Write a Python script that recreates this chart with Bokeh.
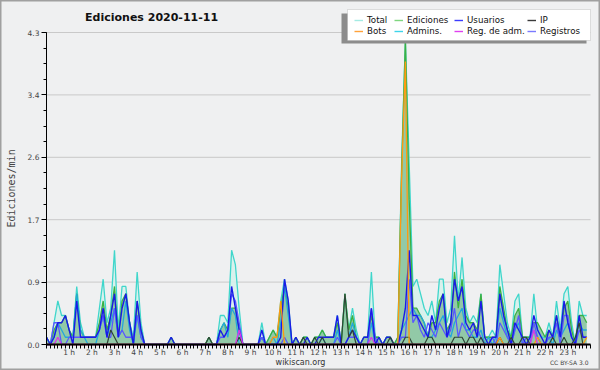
import numpy as np
from bokeh.plotting import figure
from bokeh.models import FixedTicker, Legend, LegendItem, Range1d, Label, BoxAnnotation
from bokeh.embed import file_html
from bokeh.resources import INLINE

# edits per minute, 10-minute bins (6 per hour, 24 hours)
TOTAL = [
    0.1, 0.0, 0.3, 0.6, 0.4, 0.4,
    0.2, 0.1, 0.8, 0.3, 0.1, 0.1,
    0.1, 0.1, 0.5, 0.9, 0.3, 0.5,
    1.3, 0.2, 0.8, 0.8, 0.3, 0.1,
    1.0, 0.3, 0.0, 0.0, 0.0, 0.0,
    0.0, 0.0, 0.0, 0.1, 0.0, 0.0,
    0.0, 0.0, 0.0, 0.0, 0.0, 0.0,
    0.0, 0.1, 0.0, 0.0, 0.4, 0.4,
    0.3, 1.3, 1.1, 0.5, 0.0, 0.0,
    0.0, 0.0, 0.0, 0.3, 0.0, 0.1,
    0.2, 0.1, 0.6, 0.9, 0.6, 0.0,
    0.1, 0.0, 0.1, 0.1, 0.0, 0.1,
    0.1, 0.2, 0.1, 0.1, 0.1, 0.4,
    0.0, 0.7, 0.2, 0.5, 0.2, 0.0,
    0.1, 0.1, 1.0, 0.1, 0.1, 0.0,
    0.1, 0.1, 0.0, 0.1, 2.5, 4.2,
    2.5, 0.8, 0.9, 0.7, 0.5, 0.4,
    0.6, 0.3, 0.9, 0.9, 0.3, 0.5,
    1.5, 0.6, 1.2, 0.5, 0.3, 0.4,
    0.3, 0.7, 0.1, 0.1, 0.2, 0.1,
    1.1, 0.7, 0.3, 0.1, 0.6, 0.7,
    0.1, 0.1, 0.1, 0.7, 0.2, 0.1,
    0.1, 0.3, 0.1, 0.6, 0.2, 0.7,
    0.8, 0.3, 0.0, 0.6, 0.4, 0.4,
]
EDICIONES = [
    0.1, 0.0, 0.2, 0.3, 0.3, 0.4,
    0.2, 0.1, 0.7, 0.2, 0.1, 0.1,
    0.1, 0.1, 0.3, 0.6, 0.2, 0.4,
    0.8, 0.1, 0.6, 0.7, 0.3, 0.0,
    0.6, 0.2, 0.0, 0.0, 0.0, 0.0,
    0.0, 0.0, 0.0, 0.1, 0.0, 0.0,
    0.0, 0.0, 0.0, 0.0, 0.0, 0.0,
    0.0, 0.1, 0.0, 0.0, 0.2, 0.3,
    0.2, 0.5, 0.5, 0.2, 0.0, 0.0,
    0.0, 0.0, 0.0, 0.1, 0.0, 0.1,
    0.2, 0.1, 0.5, 0.8, 0.5, 0.0,
    0.1, 0.0, 0.1, 0.1, 0.0, 0.1,
    0.1, 0.2, 0.1, 0.1, 0.1, 0.3,
    0.0, 0.7, 0.2, 0.4, 0.1, 0.0,
    0.1, 0.1, 0.4, 0.1, 0.1, 0.0,
    0.1, 0.1, 0.0, 0.1, 2.4, 4.2,
    2.0, 0.5, 0.5, 0.4, 0.3, 0.1,
    0.3, 0.3, 0.6, 0.7, 0.2, 0.3,
    1.0, 0.5, 0.9, 0.4, 0.3, 0.3,
    0.2, 0.7, 0.1, 0.1, 0.1, 0.1,
    0.8, 0.5, 0.2, 0.1, 0.4, 0.5,
    0.1, 0.1, 0.1, 0.3, 0.3, 0.2,
    0.1, 0.2, 0.1, 0.4, 0.1, 0.5,
    0.6, 0.2, 0.0, 0.4, 0.4, 0.3,
]
USUARIOS = [
    0.1, 0.0, 0.1, 0.3, 0.3, 0.4,
    0.2, 0.0, 0.6, 0.1, 0.1, 0.1,
    0.1, 0.1, 0.2, 0.5, 0.1, 0.4,
    0.7, 0.1, 0.5, 0.7, 0.3, 0.0,
    0.6, 0.2, 0.0, 0.0, 0.0, 0.0,
    0.0, 0.0, 0.0, 0.1, 0.0, 0.0,
    0.0, 0.0, 0.0, 0.0, 0.0, 0.0,
    0.0, 0.0, 0.0, 0.0, 0.2, 0.1,
    0.2, 0.8, 0.5, 0.2, 0.0, 0.0,
    0.0, 0.0, 0.0, 0.2, 0.0, 0.0,
    0.0, 0.0, 0.1, 0.9, 0.6, 0.0,
    0.1, 0.0, 0.0, 0.1, 0.0, 0.0,
    0.1, 0.1, 0.1, 0.1, 0.1, 0.4,
    0.0, 0.0, 0.1, 0.2, 0.1, 0.0,
    0.1, 0.1, 0.5, 0.0, 0.1, 0.0,
    0.1, 0.1, 0.0, 0.0, 0.2, 0.5,
    1.3, 0.4, 0.4, 0.3, 0.2, 0.1,
    0.4, 0.2, 0.5, 0.7, 0.1, 0.3,
    0.9, 0.6, 0.8, 0.3, 0.2, 0.3,
    0.1, 0.6, 0.1, 0.0, 0.1, 0.1,
    0.7, 0.4, 0.2, 0.0, 0.3, 0.2,
    0.1, 0.0, 0.1, 0.4, 0.2, 0.1,
    0.0, 0.2, 0.1, 0.4, 0.1, 0.6,
    0.3, 0.1, 0.0, 0.4, 0.1, 0.1,
]
IP = [
    0.0, 0.0, 0.0, 0.0, 0.0, 0.0,
    0.0, 0.0, 0.0, 0.0, 0.0, 0.0,
    0.0, 0.0, 0.0, 0.0, 0.0, 0.2,
    0.1, 0.0, 0.0, 0.0, 0.0, 0.0,
    0.0, 0.0, 0.0, 0.0, 0.0, 0.0,
    0.0, 0.0, 0.0, 0.0, 0.0, 0.0,
    0.0, 0.0, 0.0, 0.0, 0.0, 0.0,
    0.0, 0.1, 0.0, 0.0, 0.0, 0.0,
    0.0, 0.0, 0.0, 0.1, 0.0, 0.0,
    0.0, 0.0, 0.0, 0.0, 0.0, 0.0,
    0.0, 0.0, 0.0, 0.0, 0.0, 0.0,
    0.0, 0.0, 0.1, 0.0, 0.0, 0.1,
    0.0, 0.1, 0.0, 0.0, 0.0, 0.0,
    0.0, 0.7, 0.1, 0.2, 0.0, 0.0,
    0.0, 0.0, 0.0, 0.0, 0.0, 0.0,
    0.0, 0.1, 0.0, 0.0, 0.0, 0.1,
    0.1, 0.0, 0.0, 0.0, 0.0, 0.1,
    0.1, 0.0, 0.0, 0.0, 0.0, 0.0,
    0.1, 0.1, 0.1, 0.0, 0.1, 0.1,
    0.0, 0.1, 0.0, 0.0, 0.0, 0.0,
    0.1, 0.0, 0.0, 0.1, 0.0, 0.0,
    0.1, 0.1, 0.0, 0.0, 0.0, 0.0,
    0.0, 0.0, 0.1, 0.0, 0.0, 0.1,
    0.0, 0.0, 0.1, 0.3, 0.0, 0.0,
]
BOTS = [0.0] * 59 + [0.0, 0.1, 0.1, 0.6, 0.0] + [0.0] * 30 + [2.3, 3.9, 0.0] + [0.0] * 23 + [0.1] + [0.0] * 9 + [0.1] + [0.0] * 12 + [0.1]
ADMINS = [
    0.0, 0.0, 0.1, 0.3, 0.2, 0.1,
    0.1, 0.1, 0.7, 0.2, 0.1, 0.0,
    0.0, 0.0, 0.2, 0.4, 0.1, 0.3,
    0.5, 0.1, 0.2, 0.6, 0.2, 0.0,
    0.4, 0.1, 0.0, 0.0, 0.0, 0.0,
    0.0, 0.0, 0.0, 0.0, 0.0, 0.0,
    0.0, 0.0, 0.0, 0.0, 0.0, 0.0,
    0.0, 0.0, 0.0, 0.0, 0.2, 0.3,
    0.1, 0.5, 0.4, 0.0, 0.0, 0.0,
    0.0, 0.0, 0.0, 0.1, 0.0, 0.0,
    0.1, 0.0, 0.3, 0.8, 0.4, 0.0,
    0.0, 0.0, 0.0, 0.0, 0.0, 0.0,
    0.0, 0.1, 0.0, 0.0, 0.0, 0.2,
    0.0, 0.0, 0.1, 0.3, 0.1, 0.0,
    0.0, 0.0, 0.3, 0.0, 0.0, 0.0,
    0.0, 0.0, 0.0, 0.0, 0.2, 0.3,
    0.4, 0.5, 0.4, 0.4, 0.3, 0.1,
    0.1, 0.2, 0.3, 0.4, 0.2, 0.1,
    0.3, 0.4, 0.5, 0.2, 0.2, 0.1,
    0.1, 0.2, 0.0, 0.1, 0.0, 0.1,
    0.5, 0.3, 0.1, 0.0, 0.2, 0.3,
    0.0, 0.0, 0.1, 0.2, 0.1, 0.0,
    0.0, 0.1, 0.0, 0.2, 0.1, 0.2,
    0.3, 0.1, 0.0, 0.3, 0.2, 0.2,
]
REG_ADM = [0.0] * 3 + [0.1] + [0.0] * 47 + [0.2] + [0.0] * 34 + [0.1] + [0.0] * 42 + [0.2] + [0.0] * 14
REGISTROS = [
    0.0, 0.0, 0.3, 0.3, 0.0, 0.0,
    0.1, 0.1, 0.1, 0.1, 0.1, 0.1,
    0.1, 0.1, 0.2, 0.4, 0.1, 0.1,
    0.5, 0.1, 0.2, 0.1, 0.1, 0.1,
    0.4, 0.1, 0.0, 0.0, 0.0, 0.0,
    0.0, 0.0, 0.0, 0.0, 0.0, 0.0,
    0.0, 0.0, 0.0, 0.0, 0.0, 0.0,
    0.0, 0.0, 0.0, 0.0, 0.1, 0.1,
    0.2, 0.7, 0.6, 0.3, 0.0, 0.0,
    0.0, 0.0, 0.0, 0.1, 0.0, 0.0,
    0.0, 0.0, 0.0, 0.1, 0.0, 0.0,
    0.0, 0.0, 0.0, 0.0, 0.0, 0.0,
    0.0, 0.0, 0.0, 0.0, 0.0, 0.1,
    0.0, 0.0, 0.1, 0.1, 0.1, 0.0,
    0.0, 0.0, 0.5, 0.1, 0.0, 0.0,
    0.0, 0.0, 0.0, 0.0, 0.1, 0.1,
    0.9, 0.3, 0.4, 0.2, 0.1, 0.3,
    0.2, 0.1, 0.3, 0.2, 0.1, 0.2,
    0.5, 0.1, 0.3, 0.2, 0.1, 0.2,
    0.2, 0.1, 0.0, 0.0, 0.1, 0.0,
    0.3, 0.2, 0.1, 0.0, 0.2, 0.4,
    0.0, 0.1, 0.0, 0.3, 0.1, 0.0,
    0.0, 0.1, 0.1, 0.3, 0.0, 0.4,
    0.4, 0.1, 0.0, 0.2, 0.1, 0.1,
]

Y_TICKS = [0.0, 0.86, 1.72, 2.58, 3.44, 4.3]
Y_LABELS = ["0.0", "0.9", "1.7", "2.6", "3.4", "4.3"]
HOURS = list(range(1, 24))
HOUR_LABELS = [f"{h} h" for h in HOURS]

x = np.arange(len(TOTAL)) / 6.0

# page layout (pixels): plot area spans x 46..590, y 32..344 of a 600x370 picture
W, H = 600, 370
L, R, T, B = 46, 590, 32, 344
XMAX, YMAX = 24.0, Y_TICKS[-1]
kx = XMAX / (R - L)
ky = YMAX / (B - T)

BG = "#eff0f1"
p = figure(width=W, height=H, output_backend="svg", toolbar_location=None,
           x_range=Range1d(-L * kx, XMAX + (W - R) * kx),
           y_range=Range1d(-(H - B) * ky, YMAX + T * ky),
           min_border=0, min_border_left=0, min_border_right=0,
           min_border_top=0, min_border_bottom=0,
           background_fill_color=BG, border_fill_color=BG,
           outline_line_color="#a0a0a0", outline_line_width=2)

# horizontal grid lines at the y ticks, only across the plot area
p.xgrid.visible = False
p.ygrid.visible = False
p.segment(x0=0, x1=XMAX, y0=Y_TICKS, y1=Y_TICKS, line_color="#c9c9c9", line_width=1)

# fills
p.varea(x=x, y1=0, y2=TOTAL, fill_color="#d6f1ec", fill_alpha=0.9)
p.varea(x=x, y1=0, y2=EDICIONES, fill_color="#7fbf95", fill_alpha=0.8)

p.line(x, TOTAL, line_color="#3fd6cb", line_width=1.3)
p.line(x, EDICIONES, line_color="#3cb043", line_width=1.3)
p.line(x, ADMINS, line_color="#22a8dc", line_width=1.3)
p.line(x, REGISTROS, line_color="#5858ff", line_width=1.3)
p.line(x, USUARIOS, line_color="#1a1ae8", line_width=1.4)
p.line(x, IP, line_color="#2f4536", line_width=1.2)
p.line(x, BOTS, line_color="#ff9a10", line_width=1.3)
p.line(x, REG_ADM, line_color="#d838e8", line_width=1.3)


def screen_box(left, right, top, bottom, **kw):
    """Box given in page pixels (from the top-left corner)."""
    p.add_layout(BoxAnnotation(left=left, right=right, bottom=H - bottom, top=H - top,
                               left_units="screen", right_units="screen",
                               bottom_units="screen", top_units="screen", **kw))


# legend shadow and box
screen_box(341, 586, 13, 43, fill_color="#8c8c8c", fill_alpha=1, line_alpha=0)
screen_box(347, 590, 9, 40, fill_color="white", fill_alpha=1, line_color="#9a9a9a", line_width=1)

# legend: four columns of two entries (placeholder renderers carry the legend colours)
LEGEND_COLUMNS = [
    [("Total", "#a4ebe3"), ("Bots", "#ffa23a")],
    [("Ediciones", "#7fd67f"), ("Admins.", "#3ed4ea")],
    [("Usuarios", "#3c3cff"), ("Reg. de adm.", "#e040f0")],
    [("IP", "#3a3a3a"), ("Registros", "#7a7aff")],
]
COLUMN_LEFT = [354, 394, 454, 527]
for col_items, left in zip(LEGEND_COLUMNS, COLUMN_LEFT):
    items = []
    for name, colr in col_items:
        r = p.line([np.nan], [np.nan], line_color=colr, line_width=1.4)
        items.append(LegendItem(label=name, renderers=[r]))
    p.add_layout(Legend(items=items, orientation="vertical", location=(left, H - 36),
                        label_text_font="DejaVu Sans", label_text_font_size="8.7px",
                        label_text_color="#111111", glyph_width=9, glyph_height=10,
                        label_height=10, label_standoff=4, spacing=1, padding=0, margin=0,
                        border_line_alpha=0, background_fill_alpha=0), "center")

# title and credits
p.add_layout(Label(x=153, y=H - 17, x_units="screen", y_units="screen", text="Ediciones  2020-11-11",
                   text_font="DejaVu Sans", text_font_size="11px", text_font_style="bold",
                   text_align="center", text_baseline="middle", text_color="#111111"))
p.add_layout(Label(x=300, y=H - 362, x_units="screen", y_units="screen", text="wikiscan.org",
                   text_font="DejaVu Sans", text_font_size="8px",
                   text_align="center", text_baseline="middle", text_color="#333333"))
p.add_layout(Label(x=590, y=H - 362, x_units="screen", y_units="screen", text="CC BY-SA  3.0",
                   text_font="DejaVu Sans", text_font_size="6px",
                   text_align="right", text_baseline="middle", text_color="#444444"))

# axes drawn at the data origin
p.yaxis.fixed_location = 0
p.yaxis.bounds = (0, YMAX)
p.yaxis.ticker = FixedTicker(ticks=Y_TICKS, minor_ticks=[YMAX * k / 20 for k in range(21)])
p.yaxis.major_label_overrides = dict(zip(Y_TICKS, Y_LABELS))
p.yaxis.axis_line_color = "black"
p.yaxis.major_tick_out = 5
p.yaxis.major_tick_in = 0
p.yaxis.minor_tick_out = 3
p.yaxis.minor_tick_in = 0
p.yaxis.major_label_text_font = "DejaVu Sans"
p.yaxis.major_label_text_font_size = "7.5px"
p.yaxis.major_label_text_color = "#444444"
p.yaxis.major_label_standoff = 2
p.yaxis.axis_label = "Ediciones/min"
p.yaxis.axis_label_text_font = "DejaVu Sans Mono"
p.yaxis.axis_label_text_font_size = "10px"
p.yaxis.axis_label_text_font_style = "normal"
p.yaxis.axis_label_standoff = 8

p.xaxis.fixed_location = 0
p.xaxis.bounds = (0, XMAX)
p.xaxis.ticker = FixedTicker(ticks=HOURS, minor_ticks=list(x) + [XMAX])
p.xaxis.major_label_overrides = dict(zip(HOURS, HOUR_LABELS))
p.xaxis.axis_line_color = "black"
p.xaxis.axis_line_width = 2
p.xaxis.major_tick_out = 4
p.xaxis.major_tick_in = 0
p.xaxis.minor_tick_out = 4
p.xaxis.minor_tick_in = 0
p.xaxis.minor_tick_line_color = "black"
p.xaxis.major_label_text_font = "DejaVu Sans"
p.xaxis.major_label_text_font_size = "7.5px"
p.xaxis.major_label_text_color = "#444444"
p.xaxis.major_label_standoff = -1

open("out.html", "w").write(file_html(p, INLINE))
